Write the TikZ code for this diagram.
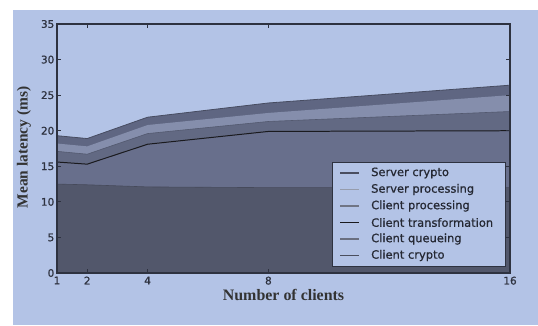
\documentclass[tikz,border=0pt]{standalone}
\usepackage{fontspec}
\setmainfont{Liberation Serif}
\newfontfamily\tickfont[FakeBold=0.8]{DejaVu Sans}
\definecolor{bgblue}{RGB}{179,195,230}
\definecolor{cA}{RGB}{82,87,107}
\definecolor{cB}{RGB}{104,111,140}
\definecolor{cC}{RGB}{98,105,131}
\definecolor{cD}{RGB}{133,142,172}
\definecolor{cE}{RGB}{95,102,130}
\definecolor{frame}{RGB}{46,50,64}
\definecolor{lnSC}{RGB}{74,78,96}
\definecolor{lnSP}{RGB}{150,156,172}
\definecolor{lnCP}{RGB}{112,117,133}
\definecolor{lnCT}{RGB}{26,26,30}
\definecolor{lnCQ}{RGB}{106,111,128}
\definecolor{lnCC}{RGB}{74,78,94}
\tikzset{
  ticklab/.style={font=\tickfont\fontsize{10.5}{12}\selectfont, text=frame, inner sep=1pt},
  axlab/.style={font=\fontsize{16}{18}\selectfont\bfseries, text=black!80, inner sep=0pt},
  legtext/.style={font=\tickfont\fontsize{11.5}{13}\selectfont, text=frame!80!black, anchor=west, inner sep=0pt},
  legline/.style={line width=1.2pt},
  tickmark/.style={line width=0.8pt, draw=frame},
}
\begin{document}
\begin{tikzpicture}[x=1bp,y=1bp]
\useasboundingbox (0,0) rectangle (538,325);
\fill[white] (0,0) rectangle (538,325);
\fill[bgblue] (13,0) rectangle (538,315);
\begin{scope}[shift={(26.8,52)}, x=30.2bp, y=7.114bp]
  % stacked bands (cumulative tops, drawn from top band downward)
  \fill[cE] (1,0) -- (1,19.3) -- (2,18.9) -- (4,21.9) -- (8,23.9) -- (16,26.4) -- (16,0) -- cycle;
  \draw[line width=0.8pt, draw=cE!75!black] (1,19.3) -- (2,18.9) -- (4,21.9) -- (8,23.9) -- (16,26.4);
  \fill[cD] (1,0) -- (1,18.2) -- (2,17.8) -- (4,20.8) -- (8,22.5) -- (16,25.0) -- (16,0) -- cycle;
  \fill[cC] (1,0) -- (1,17.1) -- (2,16.7) -- (4,19.6) -- (8,21.3) -- (16,22.7) -- (16,0) -- cycle;
  \draw[line width=0.6pt, draw=cC!85!black] (1,17.1) -- (2,16.7) -- (4,19.6) -- (8,21.3) -- (16,22.7);
  \fill[cB] (1,0) -- (1,15.6) -- (2,15.3) -- (4,18.1) -- (8,19.9) -- (16,20.0) -- (16,0) -- cycle;
  \draw[line width=1pt, draw=lnCT] (1,15.6) -- (2,15.3) -- (4,18.1) -- (8,19.9) -- (16,20.0);
  \fill[cA] (1,0) -- (1,12.5) -- (2,12.4) -- (4,12.1) -- (8,12.0) -- (16,12.0) -- (16,0) -- cycle;
  \draw[line width=0.6pt, draw=cA!85!black] (1,12.5) -- (2,12.4) -- (4,12.1) -- (8,12.0) -- (16,12.0);
  % ticks
  \foreach \v in {5,10,...,30} {
    \draw[tickmark] (1,\v) -- ++(4bp,0);
    \draw[tickmark] (16,\v) -- ++(-4bp,0);
  }
  \foreach \n in {2,4,8} {
    \draw[tickmark] (\n,0) -- ++(0,4bp);
    \draw[tickmark] (\n,35) -- ++(0,-4bp);
  }
  % frame
  \draw[line width=1.8pt, draw=frame] (1,0) rectangle (16,35);
  % tick labels
  \foreach \v in {0,5,...,35} {
    \node[ticklab, anchor=east] (yl\v) at ([xshift=-1.5bp]1,\v) {\v};
  }
  \foreach \n in {1,2,4,8,16} {
    \node[ticklab, anchor=north] (xl\n) at ([yshift=-2.5bp]\n,0) {\n};
  }
\end{scope}
% axis labels
\node[axlab] (xlab) at (283.5,30) {Number of clients};
\node[axlab, rotate=90, font=\fontsize{15.5}{18}\selectfont\bfseries] (ylab) at (24,177.5) {Mean latency (ms)};
% legend
\node[draw=frame, line width=1.4pt, fill=bgblue, minimum width=173bp, minimum height=104bp, anchor=south west, inner sep=0pt] (legend) at (332,58) {};
\foreach \y/\c/\t [count=\i] in {152/lnSC/Server crypto, 135.5/lnSP/Server processing, 119/lnCP/Client processing, 102.5/lnCT/Client transformation, 86/lnCQ/Client queueing, 69.5/lnCC/Client crypto} {
  \coordinate (la\i) at (340,\y);
  \coordinate (lb\i) at (359,\y);
  \draw[legline, draw=\c] (la\i) -- (lb\i);
  \node[legtext] (lt\i) at (371,\y) {\t};
}
\end{tikzpicture}
\end{document}
